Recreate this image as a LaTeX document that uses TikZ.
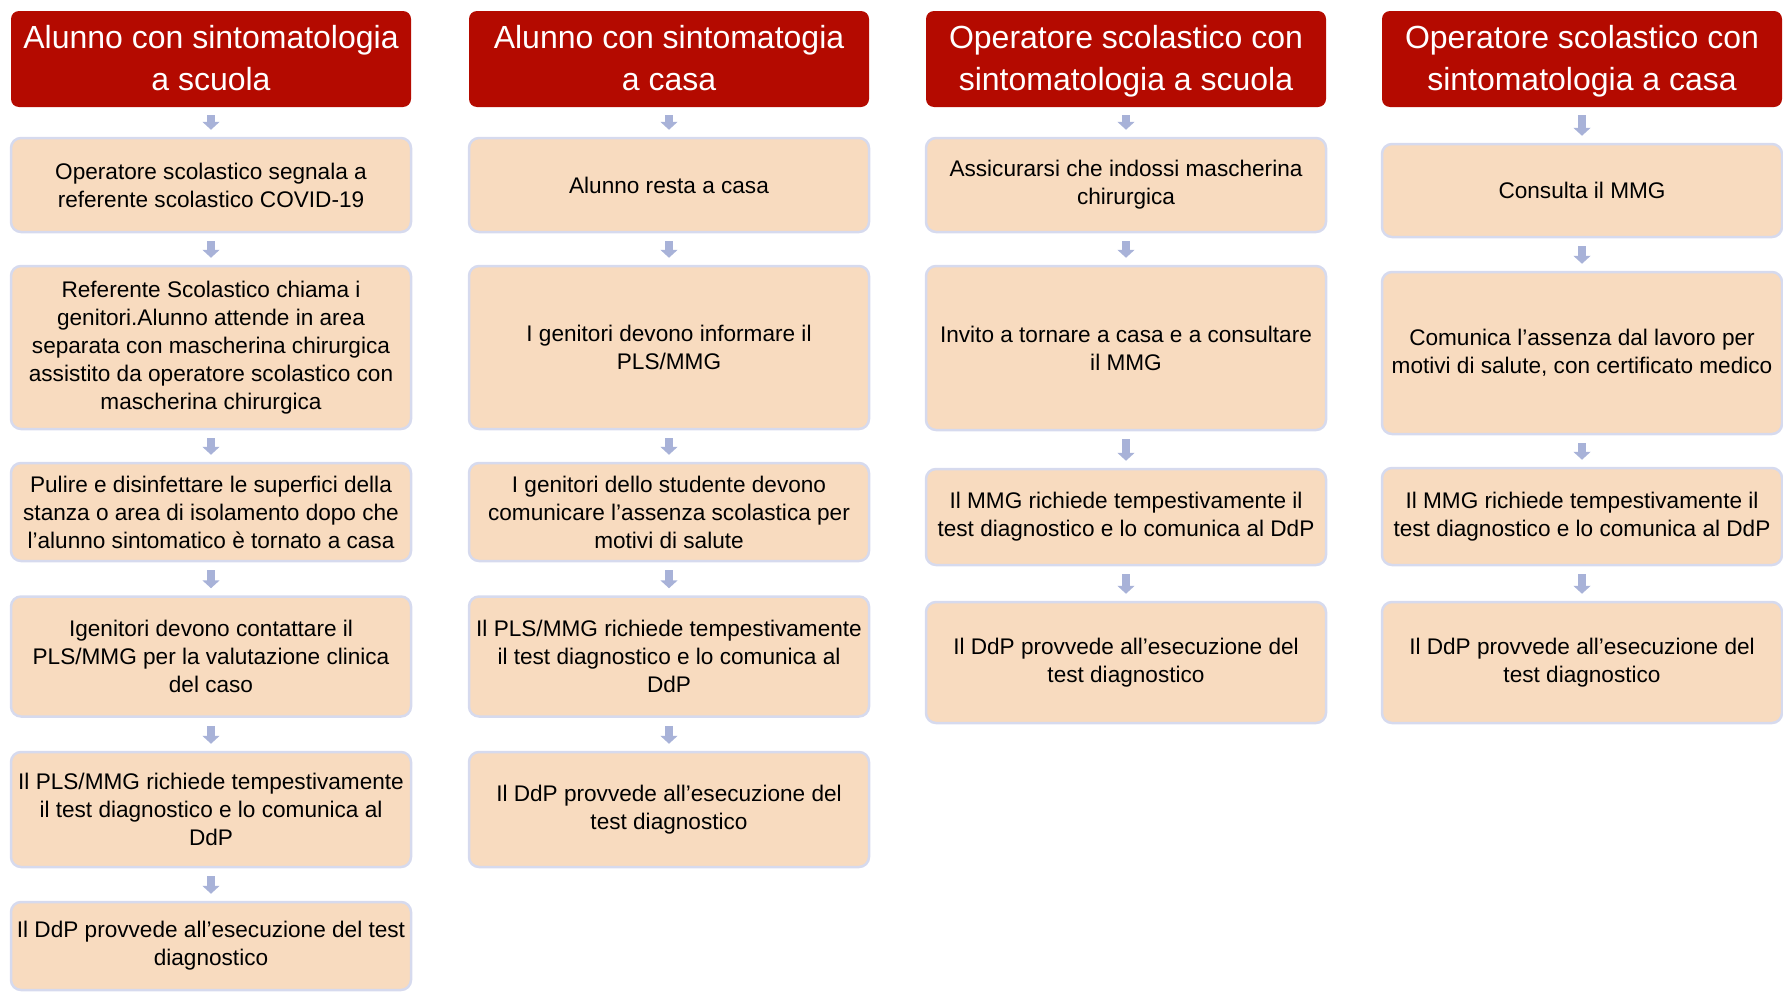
\documentclass[tikz,border=0pt]{standalone}
\usepackage{fontspec}
\setmainfont{Liberation Sans}
\usetikzlibrary{arrows.meta}
\definecolor{hdrred}{RGB}{180,10,0}
\definecolor{boxfill}{RGB}{248,219,191}
\definecolor{boxline}{RGB}{214,218,238}
\definecolor{arrcol}{RGB}{168,178,216}
\newcommand{\hdrtop}{\rule{0pt}{34.4pt}}
\tikzset{
  hdr/.style={rectangle, rounded corners=8pt, fill=hdrred, text=white, align=center,
    minimum width=400pt, minimum height=96pt, inner xsep=3pt, inner ysep=1pt,
    font=\fontsize{32}{42}\selectfont},
  flowbox/.style={rectangle, rounded corners=10pt, fill=boxfill, draw=boxline, line width=2.5pt,
    align=center, minimum width=400pt, inner xsep=3pt, text=black,
    font=\fontsize{22.6}{28}\selectfont},
  conn/.style={draw=arrcol, line width=8pt, -{Triangle[width=17pt,length=8pt]},
    shorten <=8pt, shorten >=7pt}
}
\begin{document}
\begin{tikzpicture}[x=1pt,y=1pt]
\useasboundingbox (0,0) rectangle (1783,-993);
% column 1
\node[hdr] (h1) at (211,-59) {\hdrtop Alunno con sintomatologia\\a scuola\strut};
\node[flowbox, minimum height=94pt] (a1) at (211,-185) {Operatore scolastico segnala a\\referente scolastico COVID-19};
\node[flowbox, minimum height=163pt] (a2) at (211,-347.5) {Referente Scolastico chiama i\\genitori.Alunno attende in area\\separata con mascherina chirurgica\\assistito da operatore scolastico con\\mascherina chirurgica};
\node[flowbox, minimum height=98pt] (a3) at (211,-512) {Pulire e disinfettare le superfici della\\stanza o area di isolamento dopo che\\l’alunno sintomatico è tornato a casa};
\node[flowbox, minimum height=120pt] (a4) at (211,-656.5) {Igenitori devono contattare il\\PLS/MMG per la valutazione clinica\\del caso};
\node[flowbox, minimum height=115pt] (a5) at (211,-809.5) {Il PLS/MMG richiede tempestivamente\\il test diagnostico e lo comunica al\\DdP};
\node[flowbox, minimum height=88pt] (a6) at (211,-946) {Il DdP provvede all’esecuzione del test\\diagnostico};
% column 2
\node[hdr] (h2) at (669,-59) {\hdrtop Alunno con sintomatogia\\a casa\strut};
\node[flowbox, minimum height=94pt] (b1) at (669,-185) {Alunno resta a casa};
\node[flowbox, minimum height=163pt] (b2) at (669,-347.5) {I genitori devono informare il\\PLS/MMG};
\node[flowbox, minimum height=98pt] (b3) at (669,-512) {I genitori dello studente devono\\comunicare l’assenza scolastica per\\motivi di salute};
\node[flowbox, minimum height=120pt] (b4) at (669,-656.5) {Il PLS/MMG richiede tempestivamente\\il test diagnostico e lo comunica al\\DdP};
\node[flowbox, minimum height=115pt] (b5) at (669,-809.5) {Il DdP provvede all’esecuzione del\\test diagnostico};
% column 3
\node[hdr] (h3) at (1126,-59) {\hdrtop Operatore scolastico con\\sintomatologia a scuola\strut};
\node[flowbox, minimum height=94pt] (c1) at (1126,-185) {Assicurarsi che indossi mascherina\\chirurgica};
\node[flowbox, minimum height=164pt] (c2) at (1126,-348) {Invito a tornare a casa e a consultare\\il MMG};
\node[flowbox, minimum height=96pt] (c3) at (1126,-517) {Il MMG richiede tempestivamente il\\test diagnostico e lo comunica al DdP};
\node[flowbox, minimum height=121pt] (c4) at (1126,-662.5) {Il DdP provvede all’esecuzione del\\test diagnostico};
% column 4
\node[hdr] (h4) at (1582,-59) {\hdrtop Operatore scolastico con\\sintomatologia a casa\strut};
\node[flowbox, minimum height=93pt] (d1) at (1582,-190.5) {Consulta il MMG};
\node[flowbox, minimum height=162pt] (d2) at (1582,-353) {Comunica l’assenza dal lavoro per\\motivi di salute, con certificato medico};
\node[flowbox, minimum height=97pt] (d3) at (1582,-516.5) {Il MMG richiede tempestivamente il\\test diagnostico e lo comunica al DdP};
\node[flowbox, minimum height=121pt] (d4) at (1582,-662.5) {Il DdP provvede all’esecuzione del\\test diagnostico};
% connectors
\draw[conn] (h1) -- (a1);
\draw[conn] (a1) -- (a2);
\draw[conn] (a2) -- (a3);
\draw[conn] (a3) -- (a4);
\draw[conn] (a4) -- (a5);
\draw[conn] (a5) -- (a6);
\draw[conn] (h2) -- (b1);
\draw[conn] (b1) -- (b2);
\draw[conn] (b2) -- (b3);
\draw[conn] (b3) -- (b4);
\draw[conn] (b4) -- (b5);
\draw[conn] (h3) -- (c1);
\draw[conn] (c1) -- (c2);
\draw[conn] (c2) -- (c3);
\draw[conn] (c3) -- (c4);
\draw[conn] (h4) -- (d1);
\draw[conn] (d1) -- (d2);
\draw[conn] (d2) -- (d3);
\draw[conn] (d3) -- (d4);
\end{tikzpicture}
\end{document}
